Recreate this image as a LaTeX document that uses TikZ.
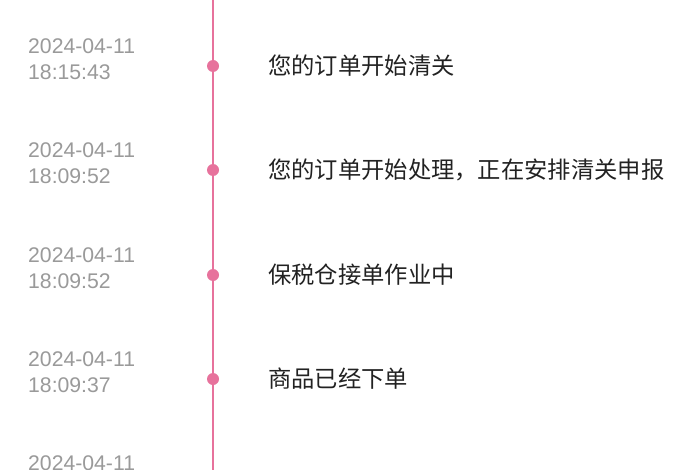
\documentclass[tikz,border=0pt]{standalone}
\usepackage{fontspec}
\setmainfont{Noto Sans CJK SC}
\newfontfamily\datefont{Liberation Sans}
\usetikzlibrary{positioning}
\definecolor{trackpink}{HTML}{E7729C}
\definecolor{stampgray}{HTML}{9A9A9A}
\definecolor{eventblack}{HTML}{222222}
\tikzset{
  stamp/.style={anchor=west, align=left, inner sep=0pt, text=stampgray,
    font=\datefont\fontsize{21.2}{26}\selectfont},
  event/.style={anchor=west, inner sep=0pt, text=eventblack,
    font=\fontsize{23.3}{26}\selectfont},
  dot/.style={circle, fill=trackpink, minimum size=12pt, inner sep=0pt}
}
\begin{document}
\begin{tikzpicture}[x=1pt, y=-1pt]
\useasboundingbox (0,0) rectangle (700,470);
\clip (0,0) rectangle (700,470);
\fill[white] (0,0) rectangle (700,470);

\coordinate (top) at (213,0);
\coordinate (bottom) at (213,470);
\draw[trackpink, line width=2.5pt] (top) -- (bottom);

\node [dot] (d1) at (213,66) {};
\node [dot] (d2) at (213,170) {};
\node [dot] (d3) at (213,275) {};
\node [dot] (d4) at (213,379) {};

\node [stamp] (t1) at (28,59) {2024-04-11\\18:15:43};
\node [stamp] (t2) at (28,163) {2024-04-11\\18:09:52};
\node [stamp] (t3) at (28,268) {2024-04-11\\18:09:52};
\node [stamp] (t4) at (28,372) {2024-04-11\\18:09:37};
% last entry runs off the bottom edge
\node [stamp] (t5) at (28,463) {2024-04-11};

\node [event] (e1) at (268,66) {您的订单开始清关};
\node [event] (e2) at (268,170) {您的订单开始处理，正在安排清关申报};
\node [event] (e3) at (268,275) {保税仓接单作业中};
\node [event] (e4) at (268,379) {商品已经下单};
\end{tikzpicture}
\end{document}
